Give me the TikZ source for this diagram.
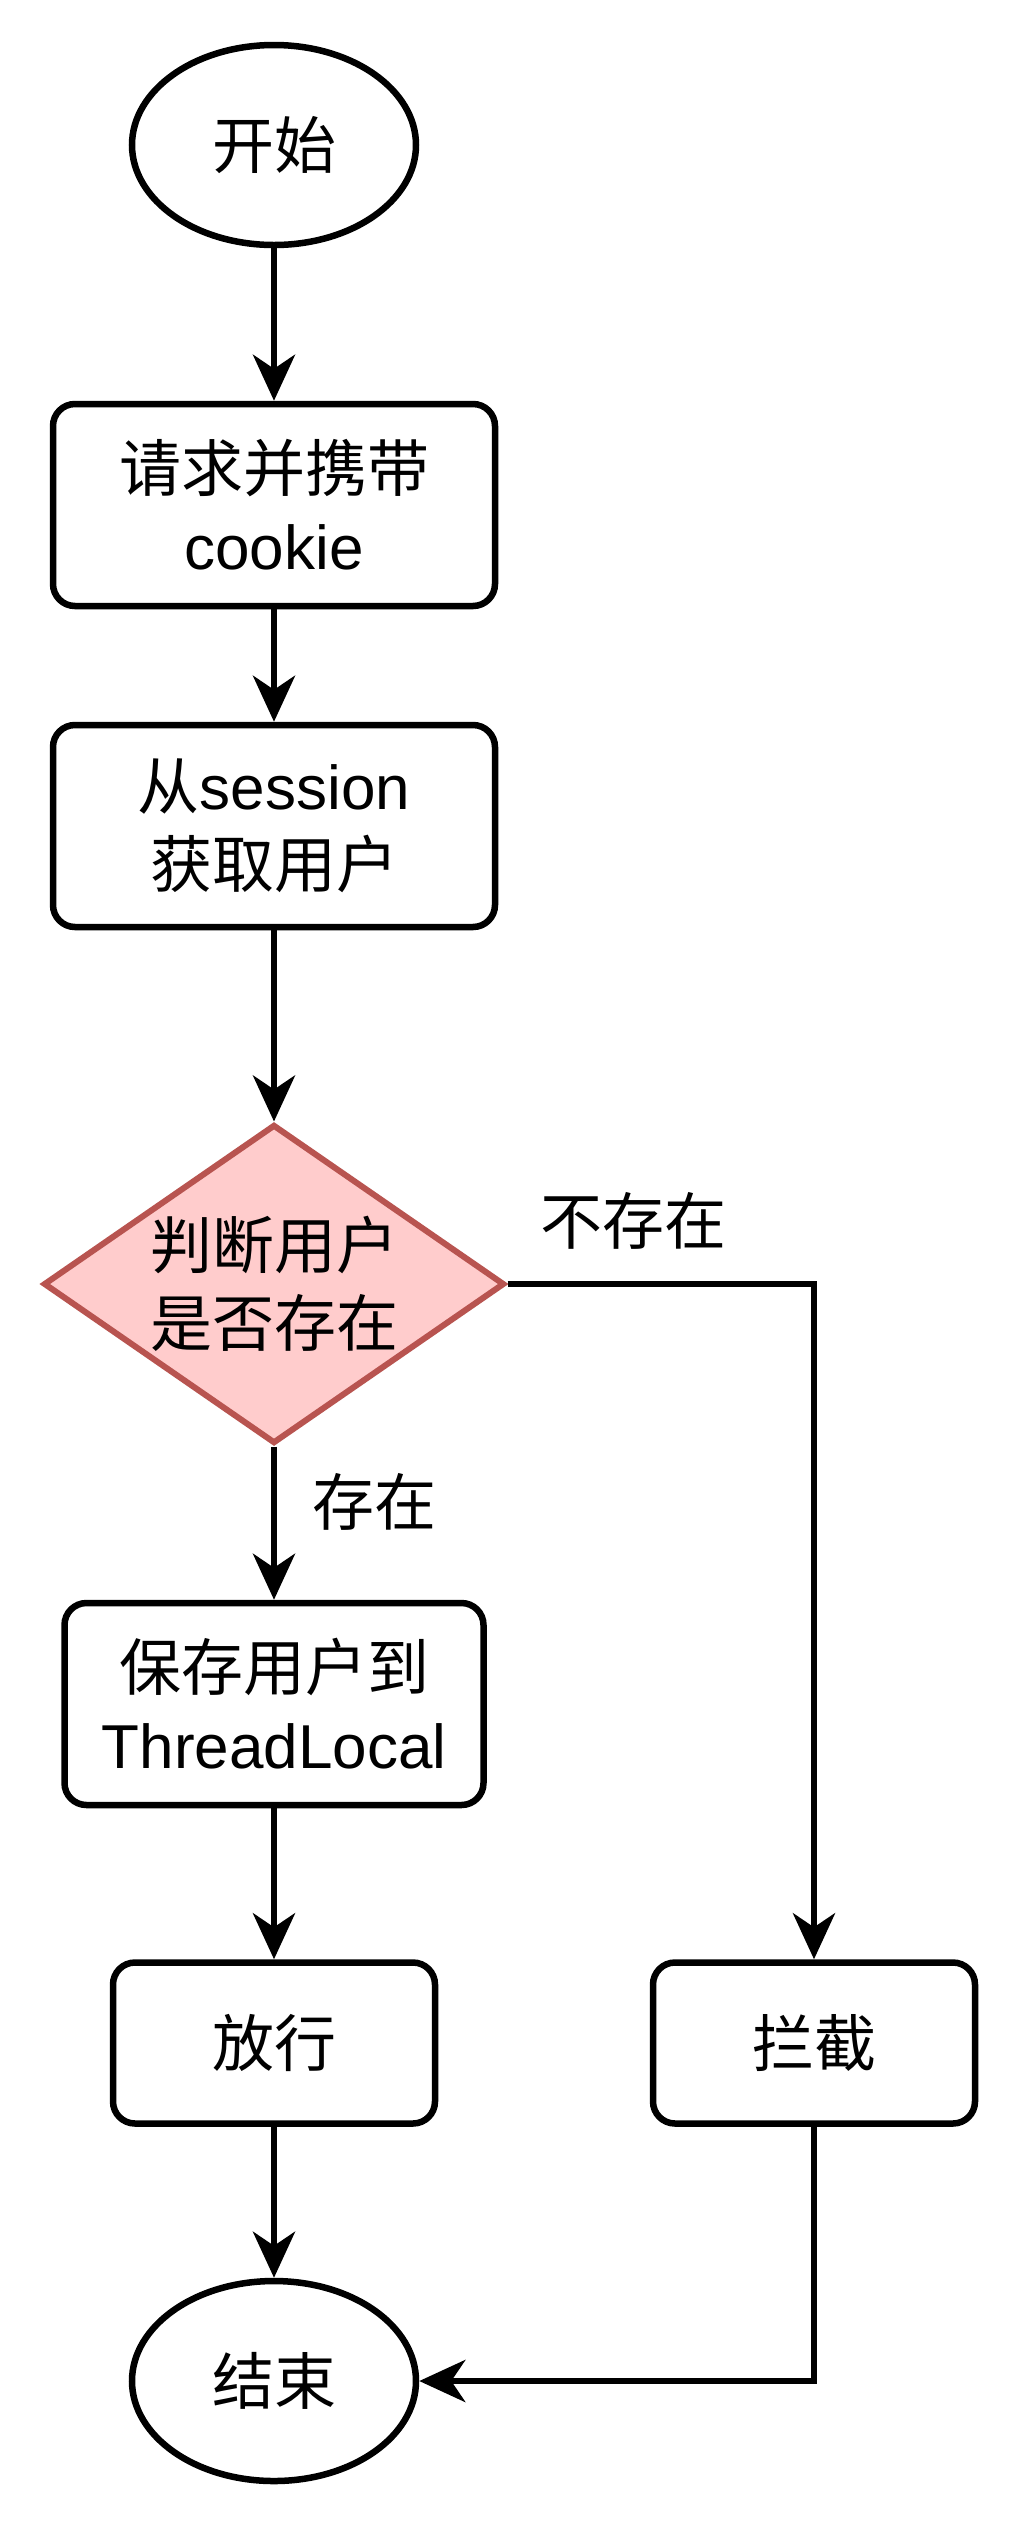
\documentclass[tikz,border=0pt]{standalone}
\usepackage{fontspec}
\setmainfont{Liberation Sans}
\newfontfamily\cjk{Noto Sans CJK SC}
\usetikzlibrary{shapes.geometric,arrows.meta}
\definecolor{checkfill}{HTML}{FFCCCC}
\definecolor{checkline}{HTML}{B85450}

\begin{document}
\begin{tikzpicture}[x=1pt, y=-1pt]
    \useasboundingbox (0,0) rectangle (1020,2528);
    \tikzset{FlowText/.style={font=\fontsize{62}{78}\selectfont, align=center, text=black}}

    \tikzset{TermStyle/.style={FlowText, draw, line width=6.5pt, ellipse, inner sep=0pt,
                               minimum width=284pt, minimum height=200pt}}
    \node[TermStyle] (start) at (274,145)  {\cjk 开始};
    \node[TermStyle] (end)   at (274,2381) {\cjk 结束};

    \tikzset{StepStyle/.style={FlowText, draw, line width=6.5pt, rounded corners=22pt, inner sep=0pt}}
    \node[StepStyle, minimum width=442pt, minimum height=202pt] (request) at (274,505)  {{\cjk 请求并携带}\\cookie};
    \node[StepStyle, minimum width=442pt, minimum height=202pt] (getuser) at (274,826)  {{\cjk 从}session\\{\cjk 获取用户}};
    \node[StepStyle, minimum width=419pt, minimum height=202pt] (save)    at (274,1704) {{\cjk 保存用户到}\\ThreadLocal};
    \node[StepStyle, minimum width=322pt, minimum height=161pt] (pass)    at (274,2043) {\cjk 放行};
    \node[StepStyle, minimum width=322pt, minimum height=161pt] (block)   at (814,2043) {\cjk 拦截};

    \tikzset{CheckStyle/.style={FlowText, diamond, draw=checkline, fill=checkfill, line width=6pt,
                                inner sep=0pt, shape aspect=1.45, minimum width=461pt, minimum height=319pt}}
    \node[CheckStyle] (check) at (274,1284) {{\cjk 判断用户}\\{\cjk 是否存在}};

    \tikzset{LabelStyle/.style={FlowText, inner sep=0pt}}
    \node[LabelStyle] (nolabel)  at (633,1221) {\cjk 不存在};
    \node[LabelStyle] (yeslabel) at (374,1502) {\cjk 存在};

    \tikzset{EdgeStyle/.style={draw, line width=6.5pt, -{Stealth[length=46pt, width=42pt, inset=14pt]}}}
    \draw[EdgeStyle] (start) -- (request);
    \draw[EdgeStyle] (request) -- (getuser);
    \draw[EdgeStyle] (getuser) -- (check);
    \draw[EdgeStyle] (check) -- (save);
    \draw[EdgeStyle] (check.east) -| (block);
    \draw[EdgeStyle] (save) -- (pass);
    \draw[EdgeStyle] (pass) -- (end);
    \draw[EdgeStyle] (block) |- (end);
\end{tikzpicture}
\end{document}
